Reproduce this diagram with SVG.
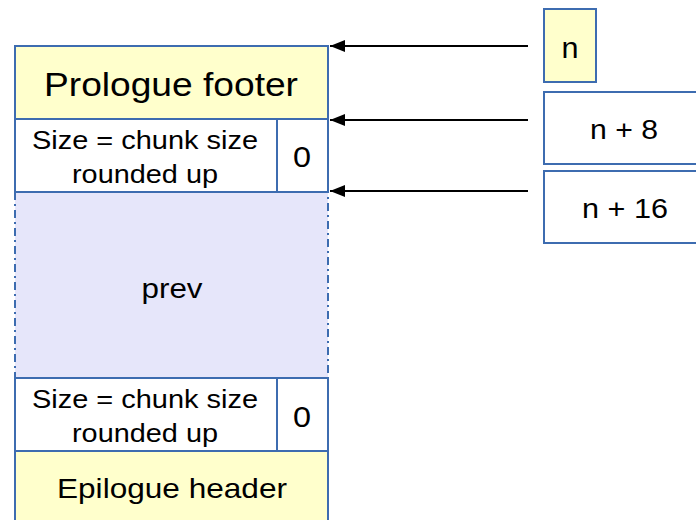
<svg xmlns="http://www.w3.org/2000/svg" width="696" height="520" viewBox="0 0 696 520">
<defs>
<style>
.box{stroke:#3d6cb0;stroke-width:2}
.yel{fill:#ffffcc}
.wht{fill:#ffffff}
.lav{fill:#e6e6fa}
.dash{fill:none;stroke:#3d6cb0;stroke-width:2;stroke-dasharray:8 4 2 4}
text{font-family:"Liberation Sans",Arial,sans-serif;fill:#000;text-anchor:middle}
.conn{stroke:#000;stroke-width:2;fill:none}
</style>
<marker id="ah" markerWidth="16" markerHeight="12" refX="15" refY="6" orient="auto" markerUnits="userSpaceOnUse">
<path d="M0,0 L15,6 L0,12 Z" fill="#000"/>
</marker>
</defs>
<rect width="696" height="520" fill="#fff"/>

<g id="prev">
<rect x="15" y="192" width="313" height="186" class="lav"/>
<rect x="15" y="192" width="313" height="186" class="dash"/>
<text x="172" y="298" font-size="28" textLength="61" lengthAdjust="spacingAndGlyphs">prev</text>
</g>

<g id="prologue-footer">
<rect x="15" y="46" width="313" height="73" class="box yel"/>
<text x="171" y="96" font-size="33" textLength="254" lengthAdjust="spacingAndGlyphs">Prologue footer</text>
</g>

<g id="header-size">
<rect x="15" y="119" width="262" height="73" class="box wht"/>
<text x="145" y="149" font-size="26" textLength="226" lengthAdjust="spacingAndGlyphs">Size = chunk size</text>
<text x="145" y="183" font-size="26" textLength="146" lengthAdjust="spacingAndGlyphs">rounded up</text>
</g>
<g id="header-alloc">
<rect x="277" y="119" width="51" height="73" class="box wht"/>
<text x="302" y="167" font-size="30" textLength="18" lengthAdjust="spacingAndGlyphs">0</text>
</g>

<g id="footer-size">
<rect x="15" y="378" width="262" height="73" class="box wht"/>
<text x="145" y="408" font-size="26" textLength="226" lengthAdjust="spacingAndGlyphs">Size = chunk size</text>
<text x="145" y="442" font-size="26" textLength="146" lengthAdjust="spacingAndGlyphs">rounded up</text>
</g>
<g id="footer-alloc">
<rect x="277" y="378" width="51" height="73" class="box wht"/>
<text x="302" y="427" font-size="30" textLength="18" lengthAdjust="spacingAndGlyphs">0</text>
</g>

<g id="epilogue-header">
<rect x="15" y="451" width="313" height="80" class="box yel"/>
<text x="172" y="498" font-size="28" textLength="230" lengthAdjust="spacingAndGlyphs">Epilogue header</text>
</g>

<g id="addr-n">
<rect x="544" y="9" width="52" height="73" class="box yel"/>
<text x="570" y="58" font-size="30" textLength="17" lengthAdjust="spacingAndGlyphs">n</text>
</g>
<g id="addr-n8">
<rect x="544" y="92" width="160" height="72" class="box wht"/>
<text x="624" y="139" font-size="27" textLength="68" lengthAdjust="spacingAndGlyphs">n + 8</text>
</g>
<g id="addr-n16">
<rect x="544" y="171" width="160" height="72" class="box wht"/>
<text x="625" y="218" font-size="27" textLength="86" lengthAdjust="spacingAndGlyphs">n + 16</text>
</g>

<g id="connectors">
<line x1="528" y1="46" x2="330" y2="46" class="conn" marker-end="url(#ah)"/>
<line x1="528" y1="120" x2="330" y2="120" class="conn" marker-end="url(#ah)"/>
<line x1="528" y1="191" x2="330" y2="191" class="conn" marker-end="url(#ah)"/>
</g>
</svg>
